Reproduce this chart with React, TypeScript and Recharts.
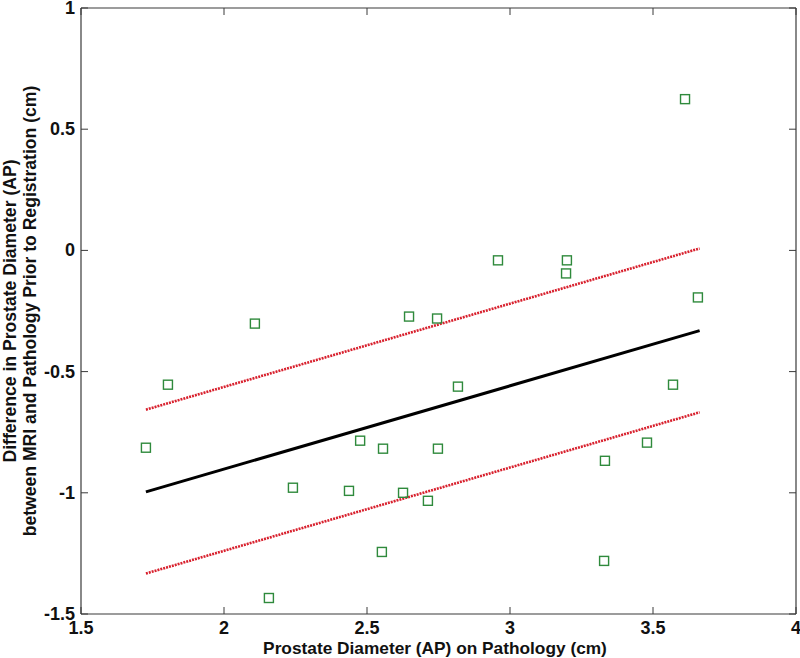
import React from "react";
import {
  ScatterChart,
  Scatter,
  XAxis,
  YAxis,
  ReferenceLine,
} from "recharts";

// measured points (x: pathology AP diameter, y: MRI - pathology difference)
const pathologyAP = [
  1.727, 1.804, 2.108, 2.157, 2.241, 2.437, 2.476, 2.556, 2.552, 2.626, 2.647, 2.713,
  2.745, 2.748, 2.818, 2.958, 3.199, 3.196, 3.329, 3.332, 3.479, 3.57, 3.612, 3.657,
];
const diffAP = [
  -0.814, -0.554, -0.302, -1.434, -0.979, -0.992, -0.785, -0.818, -1.244, -1.0, -0.273, -1.033,
  -0.281, -0.818, -0.562, -0.041, -0.041, -0.095, -1.281, -0.868, -0.793, -0.554, 0.624, -0.194,
];

// regression line and its bounds, at the two ends of the data
const fitX = [1.727, 3.663];
const fitY = [-0.996, -0.331];
const upperY = [-0.657, 0.008];
const lowerY = [-1.333, -0.668];

const xTicks = [1.5, 2, 2.5, 3, 3.5, 4];
const yTicks = [-1.5, -1, -0.5, 0, 0.5, 1];

const W = 800;
const H = 658;
const FONT = "'Liberation Sans', Arial, sans-serif";
const FRAME = "#3a3a3a";
const TICK_LEN = 7;
// plot box edges, from the chart margins below
const PLOT_TOP = 8;
const PLOT_RIGHT = 796;

const points = pathologyAP.map((x, i) => ({ x, y: diffAP[i] }));
const fitData = fitX.map((x, i) => ({ x, y: fitY[i] }));
const upperData = fitX.map((x, i) => ({ x, y: upperY[i] }));
const lowerData = fitX.map((x, i) => ({ x, y: lowerY[i] }));

// inward ticks on bottom and top edges
function BottomTick({ x, y, payload }: any) {
  return (
    <g>
      <line x1={x} x2={x} y1={y} y2={y - TICK_LEN} stroke={FRAME} strokeWidth={1} />
      <line x1={x} x2={x} y1={PLOT_TOP} y2={PLOT_TOP + TICK_LEN} stroke={FRAME} strokeWidth={1} />
      <text x={x} y={y + 20} textAnchor="middle" fontSize={18} fontWeight="bold" fontFamily={FONT} fill="#111">
        {String(payload.value)}
      </text>
    </g>
  );
}

// inward ticks on left and right edges
function LeftTick({ x, y, payload }: any) {
  return (
    <g>
      <line x1={x + 6} x2={x + 6 + TICK_LEN} y1={y} y2={y} stroke={FRAME} strokeWidth={1} />
      <line x1={PLOT_RIGHT} x2={PLOT_RIGHT - TICK_LEN} y1={y} y2={y} stroke={FRAME} strokeWidth={1} />
      <text x={x} y={y + 6} textAnchor="end" fontSize={18} fontWeight="bold" fontFamily={FONT} fill="#111">
        {String(payload.value)}
      </text>
    </g>
  );
}

function SquareMarker({ cx, cy }: any) {
  if (cx == null || cy == null) return null;
  return (
    <rect x={cx - 4.5} y={cy - 4.5} width={9} height={9} fill="none" stroke="#2f8a3c" strokeWidth={1.4} />
  );
}

function NoMarker() {
  return <g />;
}

function YLabel() {
  const cy = 311;
  return (
    <g fontFamily={FONT} fontSize={17.6} fontWeight="bold" fill="#111">
      <text x={16} y={cy} transform={`rotate(-90 16 ${cy})`} textAnchor="middle">
        Difference in Prostate Diameter (AP)
      </text>
      <text x={36} y={cy} transform={`rotate(-90 36 ${cy})`} textAnchor="middle">
        between MRI and Pathology Prior to Registration (cm)
      </text>
    </g>
  );
}

function XLabel() {
  return (
    <text x={435} y={654} textAnchor="middle" fontFamily={FONT} fontSize={17.3} fontWeight="bold" fill="#111">
      Prostate Diameter (AP) on Pathology (cm)
    </text>
  );
}

export default function App() {
  return (
    <div style={{ position: "absolute", left: 0, top: 0, width: W, height: H, background: "#fff" }}>
      <ScatterChart width={W} height={H} margin={{ top: PLOT_TOP, right: W - PLOT_RIGHT, left: 0, bottom: 0 }}>
        <XAxis
          dataKey="x"
          type="number"
          domain={[1.5, 4]}
          ticks={xTicks}
          interval={0}
          height={44}
          tickSize={0}
          tickMargin={0}
          tickLine={false}
          axisLine={{ stroke: FRAME, strokeWidth: 1.2 }}
          tick={<BottomTick />}
          label={<XLabel />}
        />
        <YAxis
          dataKey="y"
          type="number"
          domain={[-1.5, 1]}
          ticks={yTicks}
          interval={0}
          width={81}
          tickSize={0}
          tickMargin={6}
          tickLine={false}
          axisLine={{ stroke: FRAME, strokeWidth: 1.2 }}
          tick={<LeftTick />}
          label={<YLabel />}
        />
        <ReferenceLine y={1} stroke={FRAME} strokeWidth={1.2} />
        <ReferenceLine x={4} stroke={FRAME} strokeWidth={1.2} />
        <Scatter
          data={upperData}
          line={{ stroke: "#d8212e", strokeWidth: 2.6, strokeDasharray: "2 1" }}
          shape={<NoMarker />}
          isAnimationActive={false}
        />
        <Scatter
          data={lowerData}
          line={{ stroke: "#d8212e", strokeWidth: 2.6, strokeDasharray: "2 1" }}
          shape={<NoMarker />}
          isAnimationActive={false}
        />
        <Scatter
          data={fitData}
          line={{ stroke: "#000", strokeWidth: 3 }}
          shape={<NoMarker />}
          isAnimationActive={false}
        />
        <Scatter data={points} shape={<SquareMarker />} isAnimationActive={false} />
      </ScatterChart>
    </div>
  );
}
